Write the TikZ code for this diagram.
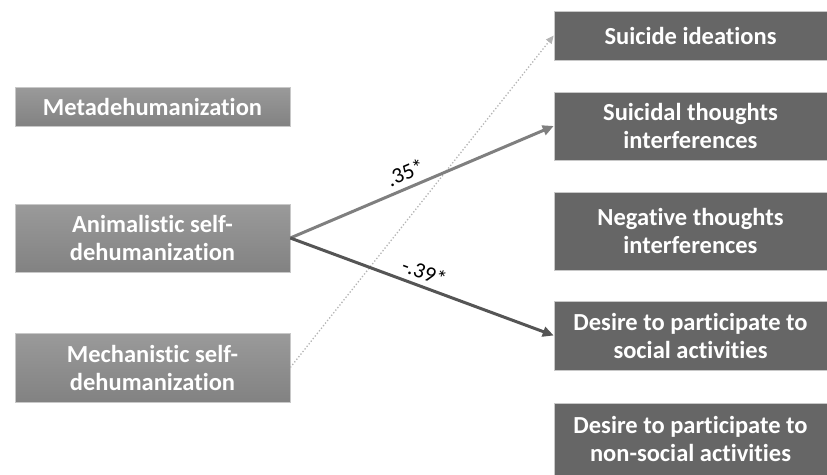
\documentclass[tikz,border=0pt]{standalone}
\usepackage{fontspec}
\setmainfont{Carlito}[Ligatures=NoCommon]
\usetikzlibrary{arrows.meta}
\definecolor{leftA}{HTML}{9A9A9A}
\definecolor{leftB}{HTML}{828282}
\definecolor{rightbox}{HTML}{666666}
\definecolor{edgec}{HTML}{C8C8C8}
\definecolor{midarrow}{HTML}{7F7F7F}
\definecolor{darkarrow}{HTML}{555555}
\definecolor{dotarrow}{HTML}{B4B4B4}
\tikzset{
  leftbox/.style={draw=edgec, line width=0.6pt, top color=leftA, bottom color=leftB, text=white, font=\fontsize{24.5}{28}\selectfont\bfseries, align=center, inner sep=0pt, minimum width=275pt},
  rightbx/.style={draw=edgec, line width=0.6pt, fill=rightbox, text=white, font=\fontsize{24.5}{28}\selectfont\bfseries, align=center, inner sep=0pt, minimum width=273pt},
  coef/.style={font=\fontsize{22}{24}\selectfont, text=black, inner sep=0pt},
  patharrow/.style={line width=3pt, -{Triangle[length=11pt,width=10pt]}},
}
\begin{document}
\begin{tikzpicture}[x=1pt,y=-1pt]
\useasboundingbox (0,0) rectangle (827,474);
% left boxes
\node[leftbox, minimum height=39pt] (meta) at (152.5,106.5) {Metadehumanization};
\node[leftbox, minimum height=68pt] (anim) at (152.5,238) {Animalistic self-\\dehumanization};
\node[leftbox, minimum height=69pt] (mech) at (152.5,367.5) {Mechanistic self-\\dehumanization};
% right boxes
\node[rightbx, minimum height=49pt] (sui) at (690.5,35.5) {Suicide ideations};
\node[rightbx, minimum height=68pt] (sth) at (690.5,126) {Suicidal thoughts\\interferences};
\node[rightbx, minimum height=78pt] (neg) at (690.5,231) {Negative thoughts\\interferences};
\node[rightbx, minimum height=69pt] (soc) at (690.5,335.5) {Desire to participate to\\social activities};
\node[rightbx, minimum height=72pt] (nsoc) at (690.5,439) {Desire to participate to\\non-social activities};
% connectors
\draw[dotarrow, line width=1.3pt, dotted, -{Triangle[length=8pt,width=7pt]}] (mech.east) -- (sui.west);
\draw[midarrow, patharrow] (anim.east) -- node[coef, above=6pt, sloped, pos=0.46] {.35*} (sth.west);
\draw[darkarrow, patharrow] (anim.east) -- node[coef, above=5pt, sloped, pos=0.49] {-.39*} (soc.west);
\end{tikzpicture}
\end{document}
